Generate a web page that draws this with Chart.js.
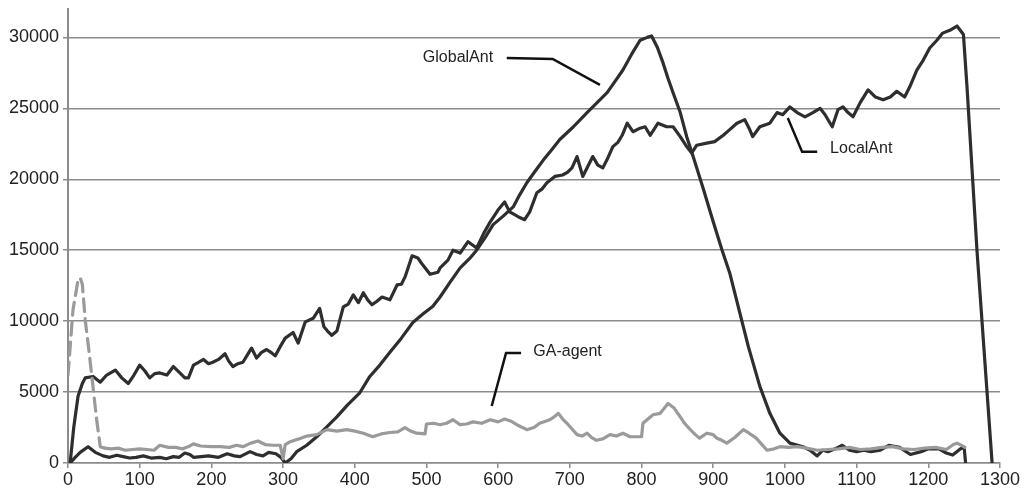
<!DOCTYPE html>
<html>
<head>
<meta charset="utf-8">
<script src="https://cdn.jsdelivr.net/npm/chart.js@4"></script>
<style>
  body { margin: 0; background: #fff; }
  #wrap { width: 1027px; height: 490px; }
</style>
</head>
<body>
<div id="wrap"><canvas id="chart"></canvas></div>
<script>
// tick values
const xTicks = [0, 100, 200, 300, 400, 500, 600, 700, 800, 900, 1000, 1100, 1200, 1300];
const yTicks = [0, 5000, 10000, 15000, 20000, 25000, 30000];

// GlobalAnt
const globalAntX = [3,10,17,28,38,49,58,68,77,86,95,105,116,128,137,147,155,163,170,175,186,196,210,222,232,240,254,263,272,280,290,297,303,311,319,333,347,360,375,390,407,421,435,449,465,481,495,509,519,533,547,560,570,582,593,607,621,630,640,652,663,675,686,705,724,738,752,763,774,786,798,808,814,822,830,837,844,854,863,872,886,900,912,923,937,949,965,979,993,1007,1025,1035,1045,1053,1060,1070,1080,1090,1100,1110,1120,1133,1145,1160,1175,1190,1200,1215,1225,1234,1245,1250,1252];
const globalAntY = [0,400,750,1150,750,500,400,550,450,350,400,500,350,400,300,450,400,700,600,400,450,500,400,650,500,450,800,600,500,750,650,400,0,300,800,1250,1850,2500,3250,4100,4950,6100,6900,7800,8800,9900,10500,11050,11700,12750,13750,14400,15000,15900,16800,17400,18050,18900,19750,20600,21350,22100,22800,23700,24700,25400,26100,26900,27700,28800,29800,30000,30100,29300,28200,27100,26100,24700,23000,21600,19350,17000,15050,13400,10600,8200,5400,3500,2100,1400,1150,900,500,900,800,1000,1250,900,800,900,800,900,1250,1100,600,800,1000,1000,700,560,1000,1100,0];

// LocalAnt
const localAntX = [3,8,14,20,24,35,45,54,66,75,84,92,100,107,114,121,128,138,147,155,163,168,175,182,189,196,202,210,219,224,230,237,244,250,256,263,270,277,283,289,296,303,314,321,331,342,351,357,362,368,375,384,391,398,405,412,418,424,431,438,449,459,465,470,480,488,495,505,516,519,530,537,547,558,570,580,589,600,609,616,623,630,637,644,654,661,668,679,690,697,703,710,718,725,732,739,746,753,760,767,773,780,788,798,805,812,823,835,844,854,863,870,877,891,902,914,923,933,944,950,955,965,979,989,997,1007,1017,1028,1039,1049,1056,1066,1074,1081,1088,1095,1105,1116,1126,1137,1147,1156,1167,1174,1184,1193,1202,1212,1220,1230,1240,1249,1254,1268,1282,1289];
const localAntY = [0,2500,4700,5600,6000,6100,5700,6200,6550,6000,5600,6200,6900,6500,6000,6300,6350,6200,6800,6400,6000,6000,6900,7100,7300,7000,7100,7300,7700,7200,6800,7000,7100,7600,8100,7400,7800,8000,7800,7550,8200,8800,9200,8450,9950,10200,10900,9600,9300,9000,9300,11000,11200,11850,11300,12000,11500,11150,11400,11700,11500,12550,12600,13100,14600,14450,13950,13300,13450,13750,14300,15000,14800,15600,15150,16200,17000,17850,18400,17700,17500,17300,17150,17700,19050,19300,19750,20200,20300,20500,20800,21600,20200,20900,21600,21000,20800,21500,22300,22600,23100,23950,23350,23600,23700,23100,23950,23700,23700,23000,22300,21850,22400,22550,22650,23100,23500,23950,24200,23600,23000,23700,23950,24700,24550,25100,24700,24400,24700,25000,24550,23700,24900,25100,24700,24400,25400,26300,25800,25600,25800,26200,25800,26500,27700,28400,29250,29800,30300,30500,30800,30200,26500,14900,4950,0];

// GA-agent
const gaAgentX = [0,7,14,17,20,24,29,33,40,45,51,60,70,80,90,100,110,120,128,140,150,160,170,175,185,200,212,225,235,244,255,265,275,285,296,300,303,310,322,333,347,361,375,389,400,412,425,437,449,460,470,478,486,498,500,510,519,528,537,547,556,565,577,589,600,609,618,626,640,650,658,672,678,684,690,696,703,710,717,724,730,737,746,756,765,774,784,792,800,802,809,816,826,837,845,854,860,868,875,881,891,900,905,912,919,930,942,950,960,968,975,985,993,1005,1017,1030,1045,1060,1075,1090,1105,1120,1135,1150,1165,1180,1195,1210,1225,1235,1240,1248,1251];
const gaAgentY = [6200,10800,12900,13050,12600,10100,8000,6200,3050,1150,1050,1000,1050,900,950,1000,950,900,1250,1100,1100,1000,1200,1350,1200,1150,1150,1100,1250,1150,1400,1550,1300,1250,1250,300,1300,1500,1700,1900,2000,2350,2250,2350,2250,2100,1850,2050,2150,2200,2500,2250,2100,2050,2750,2800,2700,2800,3050,2700,2750,2900,2800,3050,2900,3100,2950,2700,2350,2500,2800,3050,3250,3500,3100,2800,2400,2000,1900,2100,1800,1600,1700,2000,1900,2100,1850,1850,1850,2800,3100,3400,3500,4200,3900,3250,2800,2350,2000,1750,2100,2000,1750,1600,1400,1800,2350,2100,1750,1300,900,1000,1150,1100,1150,1050,900,950,1000,1100,950,1000,1100,1150,1000,950,1050,1100,950,1300,1400,1200,1100];
const gaDashedUntil = 50;

// annotation labels, in data units: text anchor + leader line points
const labels = [
  { text: 'GlobalAnt', align: 'center', at: [544, 28550], line: [[612, 28550], [676, 28480], [742, 26650]] },
  { text: 'GA-agent', align: 'left', at: [649, 7830], line: [[632, 7755], [611, 7755], [591, 4020]] },
  { text: 'LocalAnt', align: 'left', at: [1063, 22140], line: [[1045, 21930], [1024, 21930], [1004, 24320]] }
];

function toPoints(xs, ys) {
  return xs.map((x, i) => ({ x: x, y: ys[i] }));
}

const gridGray = '#8c8c8c';
const tickFont = { family: "'Liberation Sans', Arial, sans-serif", size: 18 };

// Labels met aanwijslijnen
const labelPlugin = {
  id: 'labelPlugin',
  afterDatasetsDraw(chart) {
    const ctx = chart.ctx;
    const xs = chart.scales.x;
    const ys = chart.scales.y;
    ctx.save();
    ctx.strokeStyle = '#111';
    ctx.lineWidth = 2.5;
    ctx.fillStyle = '#222';
    ctx.font = "16px 'Liberation Sans', Arial, sans-serif";
    ctx.textBaseline = 'middle';
    labels.forEach(l => {
      ctx.beginPath();
      l.line.forEach((p, i) => {
        const px = xs.getPixelForValue(p[0]);
        const py = ys.getPixelForValue(p[1]);
        if (i === 0) ctx.moveTo(px, py); else ctx.lineTo(px, py);
      });
      ctx.stroke();
      ctx.textAlign = l.align;
      ctx.fillText(l.text, xs.getPixelForValue(l.at[0]), ys.getPixelForValue(l.at[1]));
    });
    ctx.restore();
  }
};

const chart = new Chart(document.getElementById('chart'), {
  type: 'line',
  data: {
    datasets: [
      {
        label: 'GA-agent',
        data: toPoints(gaAgentX, gaAgentY),
        borderColor: '#9a9a9a',
        borderWidth: 3.2,
        segment: {
          borderDash: c => c.p0.parsed.x < gaDashedUntil ? [13, 7] : undefined
        }
      },
      {
        label: 'GlobalAnt',
        data: toPoints(globalAntX, globalAntY),
        borderColor: '#2e2e2e',
        borderWidth: 3.2
      },
      {
        label: 'LocalAnt',
        data: toPoints(localAntX, localAntY),
        borderColor: '#2e2e2e',
        borderWidth: 3.2
      }
    ]
  },
  options: {
    responsive: true,
    maintainAspectRatio: false,
    animation: false,
    devicePixelRatio: 1,
    layout: { padding: { left: 0, right: 27, top: 9, bottom: 0 } },
    elements: {
      point: { radius: 0 },
      line: { tension: 0, borderJoinStyle: 'round', borderCapStyle: 'round' }
    },
    plugins: {
      legend: { display: false },
      tooltip: { enabled: false }
    },
    scales: {
      x: {
        type: 'linear',
        min: 0,
        max: 1300,
        afterBuildTicks: s => { s.ticks = xTicks.map(v => ({ value: v })); },
        afterFit: s => { s.height = 27; s.paddingLeft = 0; s.paddingRight = 0; },
        grid: { drawOnChartArea: false, drawTicks: true, tickLength: 5, color: gridGray, lineWidth: 1.5 },
        border: { display: true, color: gridGray, width: 1.5 },
        ticks: { font: tickFont, color: '#222', padding: 1, maxRotation: 0, callback: v => String(v) }
      },
      y: {
        type: 'linear',
        min: 0,
        max: 32000,
        afterBuildTicks: s => { s.ticks = yTicks.map(v => ({ value: v })); },
        afterFit: s => { s.width = 68; s.paddingTop = 0; s.paddingBottom = 0; },
        grid: { drawTicks: true, tickLength: 5, color: gridGray, lineWidth: 1.5 },
        border: { display: true, color: gridGray, width: 2 },
        ticks: { font: tickFont, color: '#222', padding: 4, callback: v => String(v) }
      }
    }
  },
  plugins: [labelPlugin]
});
</script>
</body>
</html>
